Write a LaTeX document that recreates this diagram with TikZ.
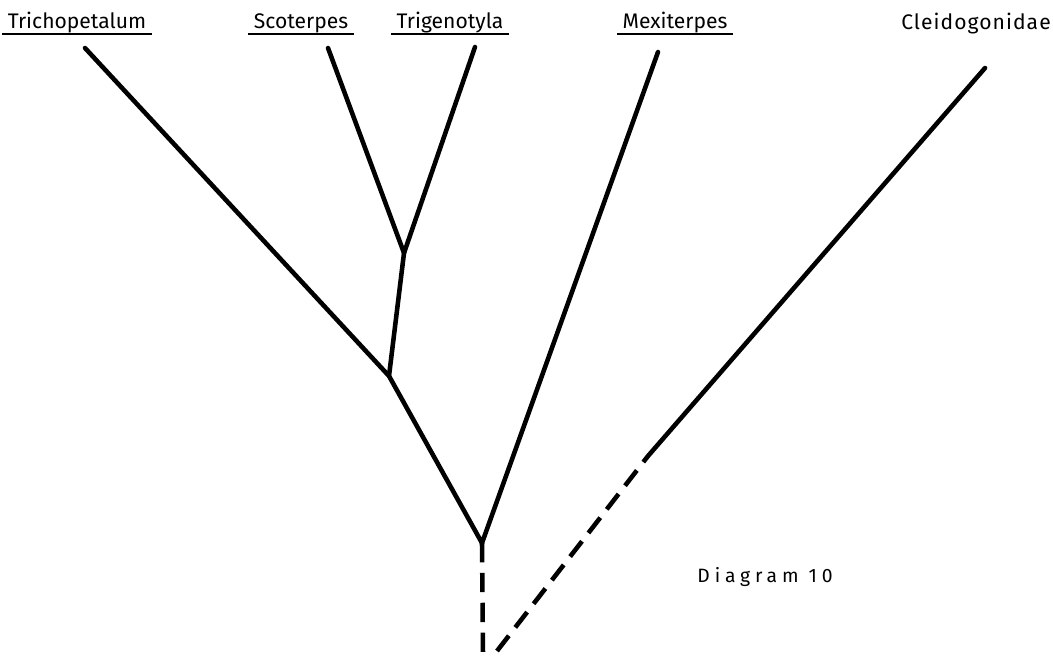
\documentclass[tikz,border=0pt]{standalone}
\usepackage{fontspec}
\setmainfont{Fira Sans}
\usetikzlibrary{positioning}

\tikzset{
  taxon/.style={font=\fontsize{12}{14}\selectfont, inner sep=1pt, anchor=base},
  branch/.style={line width=2.6pt, line cap=round},
  lineage/.style={line width=2.6pt, dash pattern=on 11pt off 6pt}
}

\begin{document}
\begin{tikzpicture}[x=0.02cm, y=-0.02cm]
\useasboundingbox (0,0) rectangle (1053,656);
% taxa
\node[taxon] (tri) at (77,28) {Trichopetalum};
\node[taxon] (sco) at (301,28) {Scoterpes};
\node[taxon] (tgn) at (450,28) {Trigenotyla};
\node[taxon] (mex) at (675,28) {Mexiterpes};
\node[taxon, font=\fontsize{12}{14}\selectfont\addfontfeature{LetterSpace=5}] (cle) at (976,29) {Cleidogonidae};
\foreach \t in {tri,sco,tgn,mex}
  \draw[line width=0.8pt] ([yshift=-3.5pt,xshift=-2pt]\t.base west) -- ([yshift=-3.5pt,xshift=2pt]\t.base east);
\node[taxon, font=\fontsize{11}{13}\selectfont\addfontfeature{LetterSpace=25}] (dia) at (765,582) {Diagram 10};
% tips and forks
\coordinate (tTri) at (85,48);
\coordinate (tSco) at (328,48);
\coordinate (tTgn) at (475,47);
\coordinate (tMex) at (658,52);
\coordinate (tCle) at (985,68);
\coordinate (fA) at (404,253);
\coordinate (fB) at (389,376);
\coordinate (fC) at (482,543);
\coordinate (cut) at (648,456);
\coordinate (root) at (483,656);
\coordinate (rootR) at (497,651);
% branches
\draw[branch] (tSco) -- (fA) -- (tTgn);
\draw[branch] (fA) -- (fB);
\draw[branch] (tTri) -- (fB) -- (fC) -- (tMex);
\draw[branch] (cut) -- (tCle);
\draw[lineage] (fC) -- (root);
\draw[lineage] (rootR) -- (cut);
\end{tikzpicture}
\end{document}
